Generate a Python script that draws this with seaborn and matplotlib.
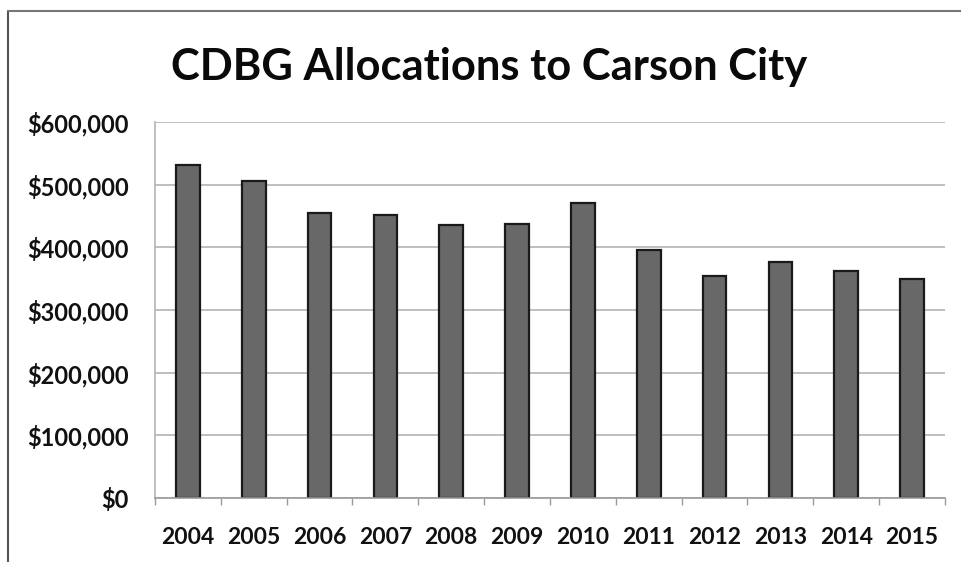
import matplotlib
matplotlib.use("Agg")
import matplotlib.pyplot as plt
import matplotlib.ticker as mticker
from matplotlib.lines import Line2D
import seaborn as sns
import pandas as pd

years = ["2004", "2005", "2006", "2007", "2008", "2009", "2010", "2011", "2012", "2013", "2014", "2015"]
allocations = [532000, 506000, 454000, 452000, 435000, 437000, 471000, 395000, 354000, 376000, 362000, 349000]
title = "CDBG Allocations to Carson City"

df = pd.DataFrame({"Year": years, "Allocation": allocations})

sns.set_theme(style="white")
plt.rcParams["font.family"] = ["Lato", "DejaVu Sans"]

fig = plt.figure(figsize=(9.61, 5.62), dpi=100)
ax = fig.add_axes([155/961, 1-498/562, (945-155)/961, (498-122)/562])

sns.barplot(data=df, x="Year", y="Allocation", ax=ax, color="#686868",
            edgecolor="#1a1a1a", linewidth=1.6, width=0.36, saturation=1)

ax.set_xlim(-0.5, len(years) - 0.5)
ax.set_ylim(0, 600000)
ax.yaxis.set_major_locator(mticker.MultipleLocator(100000))
ax.yaxis.set_major_formatter(mticker.FuncFormatter(lambda v, p: f"${int(v):,}"))
ax.grid(axis="y", color="#b4b4b4", linewidth=1.2)
ax.set_axisbelow(True)
ax.set_xlabel("")
ax.set_ylabel("")

for s in ["top", "right"]:
    ax.spines[s].set_visible(False)
ax.spines["left"].set_color("#b4b4b4")
ax.spines["bottom"].set_color("#9a9a9a")
ax.spines["left"].set_linewidth(1.2)
ax.spines["bottom"].set_linewidth(1.2)

ax.set_xticks(range(len(years)))
ax.set_xticklabels(years)
ax.set_xticks([i + 0.5 for i in range(-1, len(years))], minor=True)
ax.tick_params(axis="x", which="major", length=0, pad=21, labelsize=16.5, labelcolor="#111111")
ax.tick_params(axis="x", which="minor", length=5, color="#9a9a9a", width=1, bottom=True)
ax.tick_params(axis="y", which="major", length=0, pad=19, labelsize=17, labelcolor="#111111")
for lab in ax.get_xticklabels() + ax.get_yticklabels():
    lab.set_fontweight("bold")

fig.text(489/961, 1-67/562, title, ha="center", va="center",
         fontsize=31.3, fontweight="bold", color="#0a0a0a")

# outer frame (left and top edges visible)
fig.add_artist(Line2D([8/961, 8/961], [0, 1-11/562], transform=fig.transFigure, color="#555555", linewidth=1.5))
fig.add_artist(Line2D([8/961, 1], [1-11/562, 1-11/562], transform=fig.transFigure, color="#777777", linewidth=1.5))

fig.savefig("out.png", dpi=100, facecolor="white")
